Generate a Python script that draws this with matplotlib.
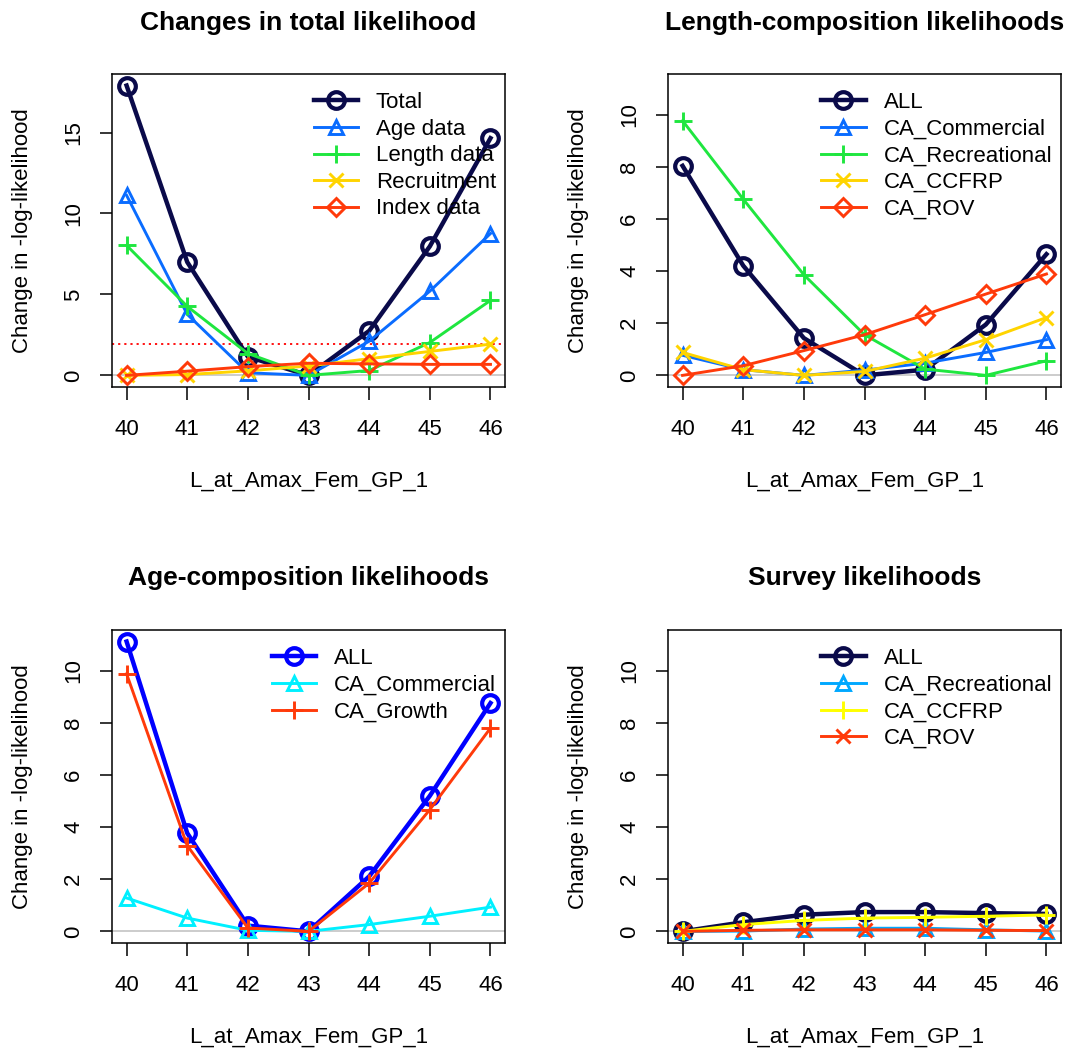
"""Profile likelihood panels for L_at_Amax_Fem_GP_1."""

import matplotlib
matplotlib.use('Agg')
import matplotlib.pyplot as plt

plt.rcParams['font.family'] = ['Liberation Sans', 'DejaVu Sans']

# Parameter values
par_vals = [40, 41, 42, 43, 44, 45, 46]

# Changes in total likelihood
total = [17.9, 7.0, 1.15, 0.0, 2.75, 7.97, 14.65]
age_data = [11.12, 3.77, 0.16, 0.0, 2.11, 5.2, 8.76]
length_data = [8.03, 4.26, 1.35, 0.0, 0.3, 2.03, 4.63]
recruitment = [0.0, 0.05, 0.28, 0.58, 1.03, 1.48, 1.93]
index_data = [0.0, 0.26, 0.54, 0.75, 0.71, 0.68, 0.68]

# Length-composition likelihoods
len_all = [8.04, 4.21, 1.43, 0.0, 0.22, 1.95, 4.65]
len_comm = [0.77, 0.22, 0.0, 0.2, 0.47, 0.88, 1.37]
len_rec = [9.77, 6.76, 3.86, 1.56, 0.24, 0.0, 0.56]
len_ccfrp = [0.88, 0.22, 0.0, 0.15, 0.66, 1.37, 2.22]
len_rov = [0.0, 0.37, 0.95, 1.56, 2.33, 3.12, 3.89]

# Age-composition likelihoods
age_all = [11.12, 3.77, 0.22, 0.0, 2.11, 5.2, 8.76]
age_comm = [1.28, 0.51, 0.04, 0.0, 0.26, 0.58, 0.93]
age_growth = [9.88, 3.29, 0.13, 0.0, 1.85, 4.67, 7.8]

# Survey likelihoods
surv_all = [0.0, 0.35, 0.64, 0.74, 0.74, 0.7, 0.67]
surv_rec = [0.0, 0.01, 0.09, 0.12, 0.12, 0.06, 0.01]
surv_ccfrp = [0.0, 0.26, 0.42, 0.51, 0.54, 0.58, 0.63]
surv_rov = [0.0, 0.04, 0.06, 0.06, 0.06, 0.04, 0.03]

chi_cutoff = 1.92

navy = '#0a0a4a'
blue = '#0a6cff'
green = '#1fe63f'
yellow = '#ffd400'
red = '#ff3a0a'

FS = 16


def pad_range(lo, hi, frac=0.04):
    d = (hi - lo) * frac
    return lo - d, hi + d


def style_axes(ax, ylim, yticks, title):
    ax.set_xlim(*pad_range(min(par_vals), max(par_vals)))
    ax.set_ylim(*ylim)
    ax.set_xticks(par_vals)
    ax.set_yticks(yticks)
    ax.set_yticklabels([str(t) for t in yticks], rotation=90, va='center')
    ax.tick_params(axis='both', direction='out', length=9, width=1.1,
                   labelsize=FS, pad=11)
    ax.tick_params(axis='x', pad=14)
    for sp in ax.spines.values():
        sp.set_linewidth(1.1)
    ax.axhline(0, color='#c4c4c4', lw=1.2, zorder=0)
    ax.set_xlabel('L_at_Amax_Fem_GP_1', fontsize=FS, labelpad=22)
    ax.set_ylabel('Change in -log-likelihood', fontsize=FS, labelpad=22)
    ax.set_title(title, fontsize=19, fontweight='bold', pad=32)


def add_line(ax, y, color, marker, label, lw=2.1, ms=9, mew=2.1):
    ax.plot(par_vals, y, color=color, lw=lw, marker=marker, ms=ms,
            mfc='none', mec=color, mew=mew, label=label)


def add_legend(ax):
    ax.legend(loc='upper right', bbox_to_anchor=(1.0, 0.97), frameon=False,
              fontsize=FS, handlelength=2.0, handletextpad=0.8,
              labelspacing=0.25, borderaxespad=0.0)


fig = plt.figure(figsize=(10.7, 10.55), dpi=100)
w, h = 0.3673, 0.2967
ax1 = fig.add_axes([0.1047, 0.6332, w, h])
ax2 = fig.add_axes([0.6243, 0.6332, w, h])
ax3 = fig.add_axes([0.1047, 0.1062, w, h])
ax4 = fig.add_axes([0.6243, 0.1062, w, h])

# panel 1
ax1.axhline(chi_cutoff, color='red', lw=1.3, ls=(0, (1.2, 2.2)))
add_line(ax1, total, navy, 'o', 'Total', lw=3.2, ms=12, mew=3.0)
add_line(ax1, age_data, blue, '^', 'Age data', ms=10)
add_line(ax1, length_data, green, '+', 'Length data', ms=13)
add_line(ax1, recruitment, yellow, 'x', 'Recruitment', ms=10)
add_line(ax1, index_data, red, 'D', 'Index data', ms=9)
style_axes(ax1, pad_range(0, max(total)), [0, 5, 10, 15],
           'Changes in total likelihood')
add_legend(ax1)

ylim_comp = pad_range(0, max(age_all))
comp_ticks = [0, 2, 4, 6, 8, 10]

# panel 2
add_line(ax2, len_all, navy, 'o', 'ALL', lw=3.2, ms=12, mew=3.0)
add_line(ax2, len_comm, blue, '^', 'CA_Commercial', ms=10)
add_line(ax2, len_rec, green, '+', 'CA_Recreational', ms=13)
add_line(ax2, len_ccfrp, yellow, 'x', 'CA_CCFRP', ms=10)
add_line(ax2, len_rov, red, 'D', 'CA_ROV', ms=9)
style_axes(ax2, ylim_comp, comp_ticks, 'Length-composition likelihoods')
add_legend(ax2)

# panel 3
add_line(ax3, age_all, '#0000ff', 'o', 'ALL', lw=3.2, ms=12, mew=3.0)
add_line(ax3, age_comm, '#00f0ff', '^', 'CA_Commercial', ms=10)
add_line(ax3, age_growth, '#ff3a0a', '+', 'CA_Growth', ms=13)
style_axes(ax3, ylim_comp, comp_ticks, 'Age-composition likelihoods')
add_legend(ax3)

# panel 4
add_line(ax4, surv_all, navy, 'o', 'ALL', lw=3.2, ms=12, mew=3.0)
add_line(ax4, surv_rec, '#00a8ff', '^', 'CA_Recreational', ms=10)
add_line(ax4, surv_ccfrp, '#ffff00', '+', 'CA_CCFRP', ms=13)
add_line(ax4, surv_rov, '#ff3a0a', 'x', 'CA_ROV', ms=10)
style_axes(ax4, ylim_comp, comp_ticks, 'Survey likelihoods')
add_legend(ax4)

fig.savefig('out.png', dpi=100, facecolor='white')
